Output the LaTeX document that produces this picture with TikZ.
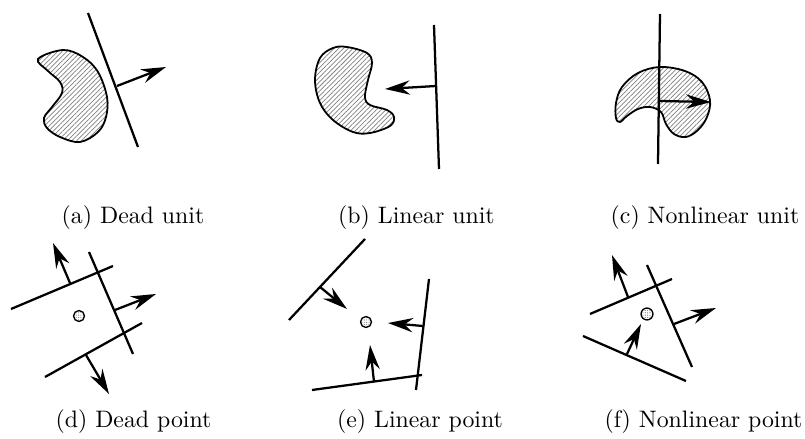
\documentclass[tikz,border=0pt]{standalone}
\usepackage{amsmath}
\usetikzlibrary{arrows.meta, patterns.meta}

\begin{document}
\begin{tikzpicture}[
                x=0.42pt, y=-0.42pt,
                cut/.style={line width=0.95pt},
                vec/.style={line width=0.95pt, -{Stealth[length=10.5pt, width=6pt, inset=3.5pt]}},
                blob/.style={line width=0.75pt, pattern={Lines[angle=45, distance=1.4pt, line width=0.3pt]}, pattern color=gray},
                dot/.style={circle, draw, line width=0.55pt, inner sep=0pt, minimum size=4.6pt, pattern={Dots[distance=1pt, radius=0.25pt]}, pattern color=gray},
                sublabel/.style={anchor=base, inner sep=0pt}
            ]
\useasboundingbox (0,0) rectangle (805,439);

% (a) dead unit
\draw[blob] plot[smooth cycle, tension=0.6] coordinates {(38,59) (63,50) (83,57) (98,72) (107,97) (106,117) (98,132) (80,142) (60,137) (47,128) (44,118) (52,107) (62,93) (60,82) (48,71)};
\draw[cut] (88,13) -- (138,147);
\draw[vec] (117,86) -- (166,67);
\node[sublabel] (capa) at (133,224) {(a) Dead unit};

% (b) linear unit
\draw[blob] plot[smooth cycle, tension=0.6] coordinates {(347,47) (367,53) (372,63) (368,80) (365,97) (370,105) (387,110) (394,117) (390,126) (370,133) (353,132) (333,120) (320,103) (315,80) (320,58) (333,48)};
\draw[cut] (434,25) -- (439,169);
\draw[vec] (436,86) -- (385,89);
\node[sublabel] (capb) at (416.5,224) {(b) Linear unit};

% (c) nonlinear unit
\draw[blob] plot[smooth cycle, tension=0.6] coordinates {(660,67) (685,71) (702,82) (710,100) (707,117) (698,130) (686,137) (674,134) (666,124) (661,112) (650,107) (638,109) (627,116) (620,122) (616,118) (616,103) (622,87) (638,73)};
\draw[cut] (660,14) -- (658,164);
\draw[vec] (659,101) -- (711,102);
\node[sublabel] (capc) at (705,224) {(c) Nonlinear unit};

% (d) dead point
\draw[cut] (11,309) -- (113,266);
\draw[cut] (89,252) -- (133,354);
\draw[cut] (45,377) -- (142,323);
\draw[vec] (70,283) -- (53,243);
\draw[vec] (115,310) -- (156,294);
\draw[vec] (86,355) -- (109,394);
\node[dot] (ptd) at (79,316) {};
\node[sublabel] (capd) at (133.5,427) {(d) Dead point};

% (e) linear point
\draw[cut] (289,320) -- (365,239);
\draw[cut] (429,279) -- (416,390);
\draw[cut] (312,390) -- (422,375);
\draw[vec] (320,287) -- (347,309);
\draw[vec] (423,326) -- (388,323);
\draw[vec] (374,382) -- (370,345);
\node[dot] (pte) at (366,322) {};
\node[sublabel] (cape) at (420,427) {(e) Linear point};

% (f) nonlinear point
\draw[cut] (590,314) -- (672,279);
\draw[cut] (647,265) -- (692,367);
\draw[cut] (583,336) -- (686,381);
\draw[vec] (628,297) -- (612,255);
\draw[vec] (674,324) -- (716,308);
\draw[vec] (627,354) -- (641,324);
\node[dot, minimum size=5pt] (ptf) at (647,314) {};
\node[sublabel] (capf) at (703.5,427) {(f) Nonlinear point};

\end{tikzpicture}
\end{document}
